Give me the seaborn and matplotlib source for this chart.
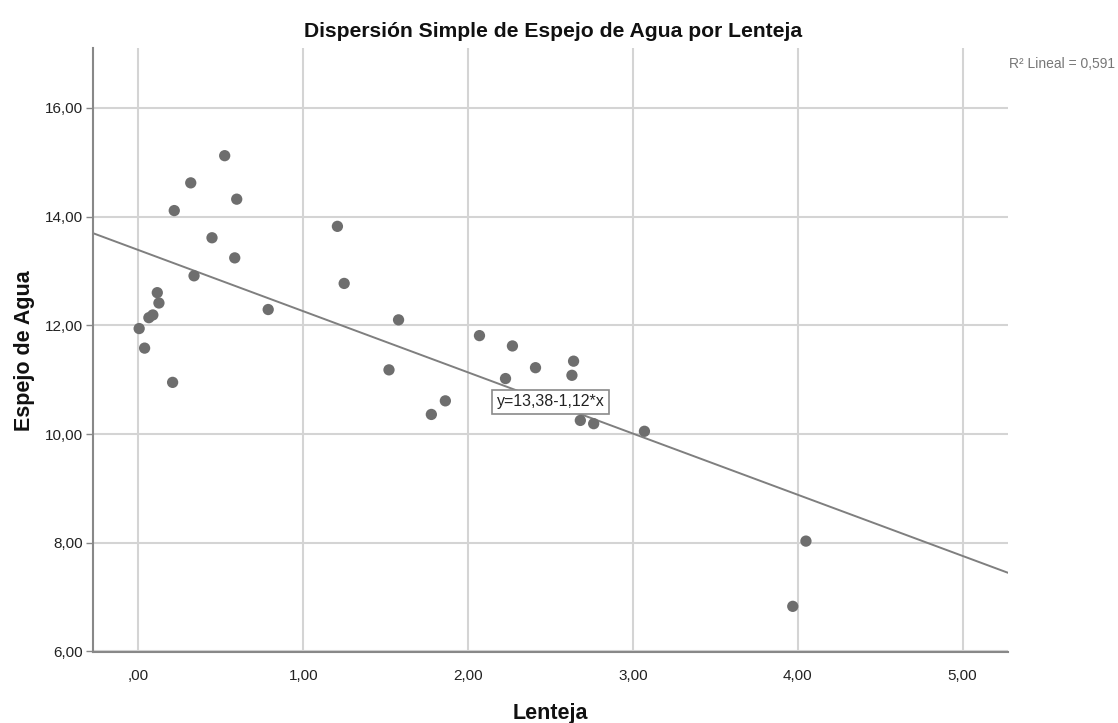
import matplotlib
matplotlib.use("Agg")
import matplotlib.pyplot as plt
import seaborn as sns
import numpy as np

# Lenteja (x) vs Espejo de Agua (y)
lenteja = [0.523, 0.317, 0.596, 0.217, 0.446, 0.584, 1.207, 0.337, 1.248, 0.114,
           0.124, 0.087, 0.063, 0.787, 1.578, 0.004, 0.037, 0.207, 1.520, 2.069,
           2.269, 2.409, 2.640, 2.630, 2.227, 1.862, 1.777, 2.681, 2.762, 3.070,
           4.050, 3.970]
espejo = [15.12, 14.62, 14.32, 14.11, 13.61, 13.24, 13.82, 12.91, 12.77, 12.60,
          12.41, 12.19, 12.14, 12.29, 12.10, 11.94, 11.58, 10.95, 11.18, 11.81,
          11.62, 11.22, 11.34, 11.08, 11.02, 10.61, 10.36, 10.25, 10.19, 10.05,
          8.03, 6.83]

x_ticks = [0, 1, 2, 3, 4, 5]
y_ticks = [6, 8, 10, 12, 14, 16]

sns.set_style("white")
plt.rcParams['font.family'] = ['Liberation Sans', 'DejaVu Sans']

fig = plt.figure(figsize=(11.18, 7.23), dpi=100)
ax = fig.add_axes([0.0829, 0.0982, 0.8187, 0.8361])
ax.set_xlim(-0.278, 5.276)
ax.set_ylim(5.99, 17.11)

sns.regplot(x=lenteja, y=espejo, ax=ax, ci=None, truncate=False,
            scatter_kws=dict(s=66, color='#6e6e6e', edgecolor='none', alpha=1, zorder=3),
            line_kws=dict(color='#7f7f7f', lw=1.4, zorder=2))

ax.set_xlim(-0.278, 5.276)
ax.set_ylim(5.99, 17.11)


def fmt(v, pos=None):
    s = f"{v:.2f}".replace('.', ',')
    return s[1:] if s.startswith('0') else s


ax.set_xticks(x_ticks)
ax.set_yticks(y_ticks)
ax.xaxis.set_major_formatter(plt.FuncFormatter(fmt))
ax.yaxis.set_major_formatter(plt.FuncFormatter(fmt))
ax.tick_params(axis='x', length=0, pad=12, labelsize=11, labelcolor='#222222')
ax.tick_params(axis='y', length=5, width=1, color='#888888', pad=2,
               labelsize=11, labelcolor='#222222', left=True)
ax.grid(True, color='#d4d4d4', lw=1.5)
ax.set_axisbelow(True)
ax.set_xlabel('')
ax.set_ylabel('')

for side in ['top', 'right']:
    ax.spines[side].set_visible(False)
for side in ['left', 'bottom']:
    ax.spines[side].set_color('#888888')
    ax.spines[side].set_linewidth(1.5)

ax.text(2.50, 10.59, "y=13,38-1,12*x", ha='center', va='center', fontsize=11.5,
        color='#222222', zorder=4,
        bbox=dict(boxstyle='square,pad=0.3', fc='white', ec='#8a8a8a', lw=1.2))

fig.text(0.4946, 0.949, "Dispersión Simple de Espejo de Agua por Lenteja",
         ha='center', va='baseline', fontsize=15.2, fontweight='bold', color='#111111')
fig.text(0.0215, 0.5145, "Espejo de Agua", rotation=90, ha='center', va='center',
         fontsize=15.5, fontweight='bold', color='#111111')
fig.text(0.492, 0.006, "Lenteja", ha='center', va='baseline',
         fontsize=15.5, fontweight='bold', color='#111111')
fig.text(0.9025, 0.906, "R² Lineal = 0,591", ha='left', va='baseline',
         fontsize=10, color='#777777')

fig.savefig("out.png", dpi=100)
